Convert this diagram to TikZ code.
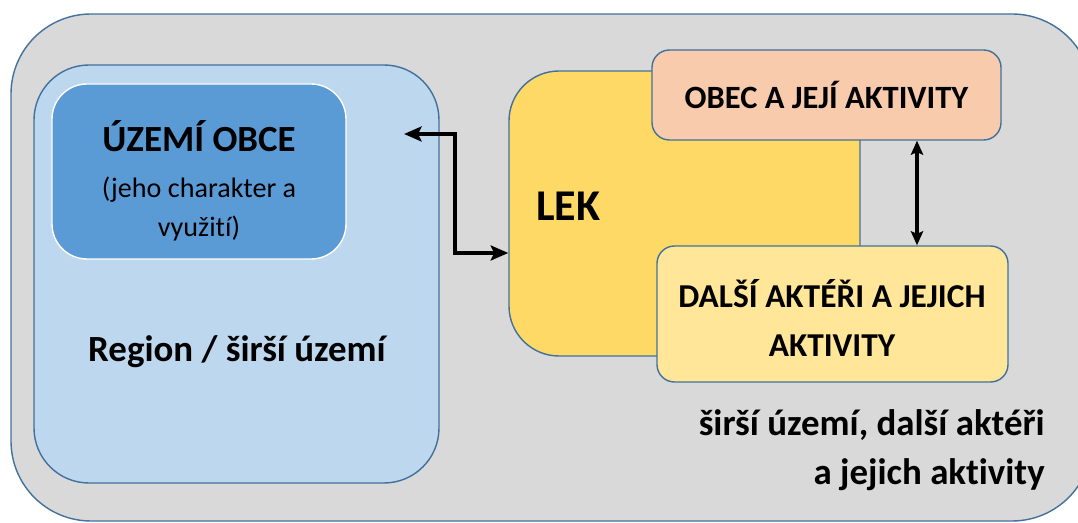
\documentclass[tikz,border=0pt]{standalone}
\usepackage{fontspec}
\setmainfont{Carlito}[Ligatures=NoCommon]
\usetikzlibrary{positioning}
\usetikzlibrary{arrows.meta}
\usetikzlibrary{fit}
\definecolor{okraj}{HTML}{41719C}
\definecolor{seda}{HTML}{D9D9D9}
\definecolor{svetlemodra}{HTML}{BDD7EE}
\definecolor{modra}{HTML}{5B9BD5}
\definecolor{zluta}{HTML}{FFD966}
\definecolor{lososova}{HTML}{F8CBAD}
\definecolor{svetlezluta}{HTML}{FFE699}
\tikzset {
  % rounded boxes drawn over given corners
  box/.style={draw=okraj, line width=0.8pt, inner sep=0pt},
  % surrounding area
  okoli/.style={box, fill=seda, rounded corners=1.6cm},
  region/.style={box, fill=svetlemodra, rounded corners=1.1cm},
  uzemi/.style={draw=white, line width=0.8pt, fill=modra, inner sep=0pt, rounded corners=0.7cm},
  lek/.style={box, fill=zluta, rounded corners=1cm},
  aktivity/.style={box, rounded corners=0.35cm},
  % texts
  popis/.style={font=\bfseries, align=center, inner sep=0pt},
  % arrows with two heads
  sipka/.style={{Stealth[length=10pt,width=8.5pt,inset=2pt]}-{Stealth[length=10pt,width=8.5pt,inset=2pt]}, line width=2.7pt},
  sipka2/.style={{Stealth[length=8pt,width=7pt,inset=1.5pt]}-{Stealth[length=8pt,width=7pt,inset=1.5pt]}, line width=1.8pt},
}

\begin{document}
\begin{tikzpicture}[x=0.02cm, y=-0.02cm]
  \useasboundingbox (0,0) rectangle (1078,523);
  \begin{scope}
    \clip (0,0) rectangle (1078,523);
    \node[okoli, fit={(11,14) (1092,521)}] (sirsi) {};
  \end{scope}

  \node[region, fit={(34,65) (439,483)}] (region) {};
  \node[uzemi, fit={(52,84) (346,259)}] (obce) {};
  \node[popis, font=\bfseries\fontsize{21}{25}\selectfont] (uzemitext) at (199,136) {ÚZEMÍ OBCE};
  \node[popis, font=\fontsize{16}{20}\selectfont, align=center] (charakter) at (199,209)
    {(jeho charakter a\\[2pt] využití)};
  \node[popis, font=\bfseries\fontsize{21}{25}\selectfont] (regiontext) at (237,352) {Region / širší území};

  \node[lek, fit={(509,71) (860,356)}] (lek) {};
  \node[popis, font=\bfseries\fontsize{25}{30}\selectfont, anchor=west] (lektext) at (536,206) {LEK};

  \node[aktivity, fill=lososova, fit={(652,50) (1001,140)}] (obec) {};
  \node[popis, font=\bfseries\fontsize{18.5}{22}\selectfont] at (obec.center) (obectext) {OBEC A JEJÍ AKTIVITY};

  \node[aktivity, fill=svetlezluta, fit={(657,246) (1008,382)}] (dalsi) {};
  \node[popis, font=\bfseries\fontsize{19}{24}\selectfont] at (832,318) (dalsitext)
    {DALŠÍ AKTÉŘI A JEJICH\\[4pt] AKTIVITY};

  \node[popis, font=\bfseries\fontsize{21}{25}\selectfont, align=right, anchor=east] (sirsitext) at (1045,450)
    {širší území, další aktéři\\[3pt] a jejich aktivity};

  \coordinate (cil) at (404,134);
  \draw[sipka] (cil) -- (455,134) -- (455,253) -- (lek.west |- 0,253);
  \draw[sipka2] (obec.south -| 917,0) -- (dalsi.north -| 917,0);
\end{tikzpicture}
\end{document}
